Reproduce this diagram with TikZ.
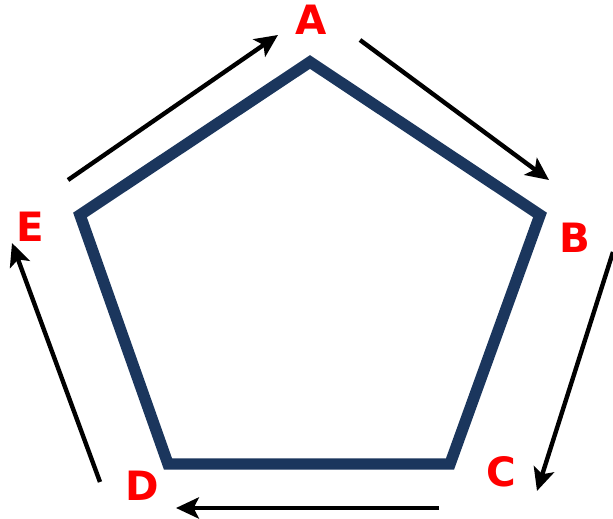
\documentclass[tikz,border=0pt]{standalone}
\usepackage{fontspec}
\setmainfont{DejaVu Sans}
\usepackage{xcolor}
\usetikzlibrary{arrows.meta}
\definecolor{pentblue}{HTML}{1B365D}
\tikzset{lab/.style={text=red,font=\bfseries\fontsize{23}{27}\selectfont},
  arr/.style={line width=2.5pt,-{Stealth[length=13pt,width=12pt,inset=3pt]}}}

\begin{document}
\begin{tikzpicture}[x=0.02cm,y=-0.02cm]
\useasboundingbox(0,0)rectangle(613,519);
\coordinate(A)at(310,62);\coordinate(B)at(540,215);\coordinate(C)at(450,464);
\coordinate(D)at(168,464);\coordinate(E)at(80,215);
\draw[line width=6.5pt,pentblue,line join=miter](A)--(B)--(C)--(D)--(E)--cycle;
\node[lab](la)at(311,20){A};
\node[lab](lb)at(575,238){B};
\node[lab](lc)at(501,472){C};
\node[lab](ld)at(142,486){D};
\node[lab](le)at(30,227){E};
\coordinate(ea1)at(68,180);\coordinate(ea2)at(278,35);
\coordinate(ab1)at(360,40);\coordinate(ab2)at(549,180);
\coordinate(bc1)at(613,252);\coordinate(bc2)at(537,491);
\coordinate(cd1)at(439,508);\coordinate(cd2)at(176,508);
\coordinate(de1)at(100,482);\coordinate(de2)at(12,243);
\draw[arr](ea1)--(ea2);
\draw[arr](ab1)--(ab2);
\draw[arr](bc1)--(bc2);
\draw[arr](cd1)--(cd2);
\draw[arr](de1)--(de2);
\end{tikzpicture}
\end{document}
